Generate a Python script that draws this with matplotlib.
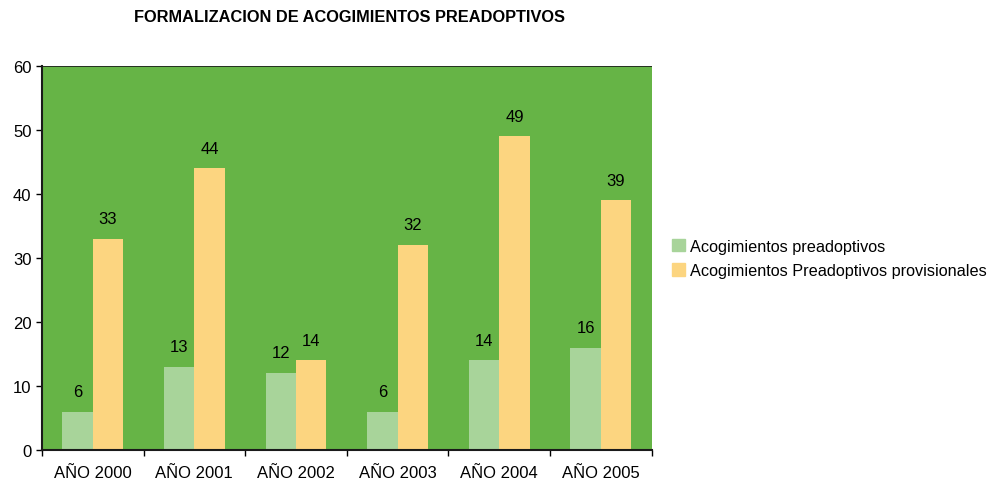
import numpy as np
import matplotlib.pyplot as plt
from matplotlib.patches import Patch

plt.rcParams['font.family'] = ['Liberation Sans', 'DejaVu Sans']

years = ['AÑO 2000', 'AÑO 2001', 'AÑO 2002', 'AÑO 2003', 'AÑO 2004', 'AÑO 2005']
preadoptivos = [6, 13, 12, 6, 14, 16]
provisionales = [33, 44, 14, 32, 49, 39]
series_names = ['Acogimientos preadoptivos', 'Acogimientos Preadoptivos provisionales']

c_bg = '#66b446'
c_green = '#a8d49a'
c_yellow = '#fcd580'

fig = plt.figure(figsize=(9.98, 4.85), dpi=100)
ax = fig.add_axes([0.042, 0.070, 0.611, 0.792])
ax.set_facecolor(c_bg)

x = np.arange(len(years))
w = 0.3
b1 = ax.bar(x - w / 2, preadoptivos, w, color=c_green, zorder=2)
b2 = ax.bar(x + w / 2, provisionales, w, color=c_yellow, zorder=2)

for bars, vals in ((b1, preadoptivos), (b2, provisionales)):
    for r, v in zip(bars, vals):
        ax.text(r.get_x() + r.get_width() / 2, v + 2.0, str(v),
                ha='center', va='bottom', fontsize=12)

ax.set_xlim(-0.5, len(years) - 0.5)
ax.set_ylim(0, 60)
ax.set_yticks(range(0, 61, 10))
ax.tick_params(axis='y', labelsize=12, length=4, width=1, direction='out')
ax.set_xticks(np.arange(-0.5, len(years), 1))
ax.set_xticklabels([])
ax.set_xticks(x, minor=True)
ax.set_xticklabels(years, minor=True, fontsize=12)
ax.tick_params(axis='x', which='major', length=4, width=1, direction='out')
ax.tick_params(axis='x', which='minor', length=0, pad=11)

ax.axhline(60, color='#1a1a1a', lw=1.2, zorder=3)
for s in ['top', 'right']:
    ax.spines[s].set_visible(False)
for s in ['left', 'bottom']:
    ax.spines[s].set_color('#1a1a1a')
    ax.spines[s].set_linewidth(1.5)

fig.text(0.35, 0.963, 'FORMALIZACION DE ACOGIMIENTOS PREADOPTIVOS',
         ha='center', va='center', fontsize=11.8, fontweight='bold')

handles = [Patch(color=c_green), Patch(color=c_yellow)]
fig.legend(handles, series_names, loc='center left', bbox_to_anchor=(0.659, 0.465),
           frameon=False, fontsize=11.7, handlelength=0.8, handleheight=0.8,
           handletextpad=0.3, labelspacing=0.6)

fig.savefig('out.png', dpi=100)
